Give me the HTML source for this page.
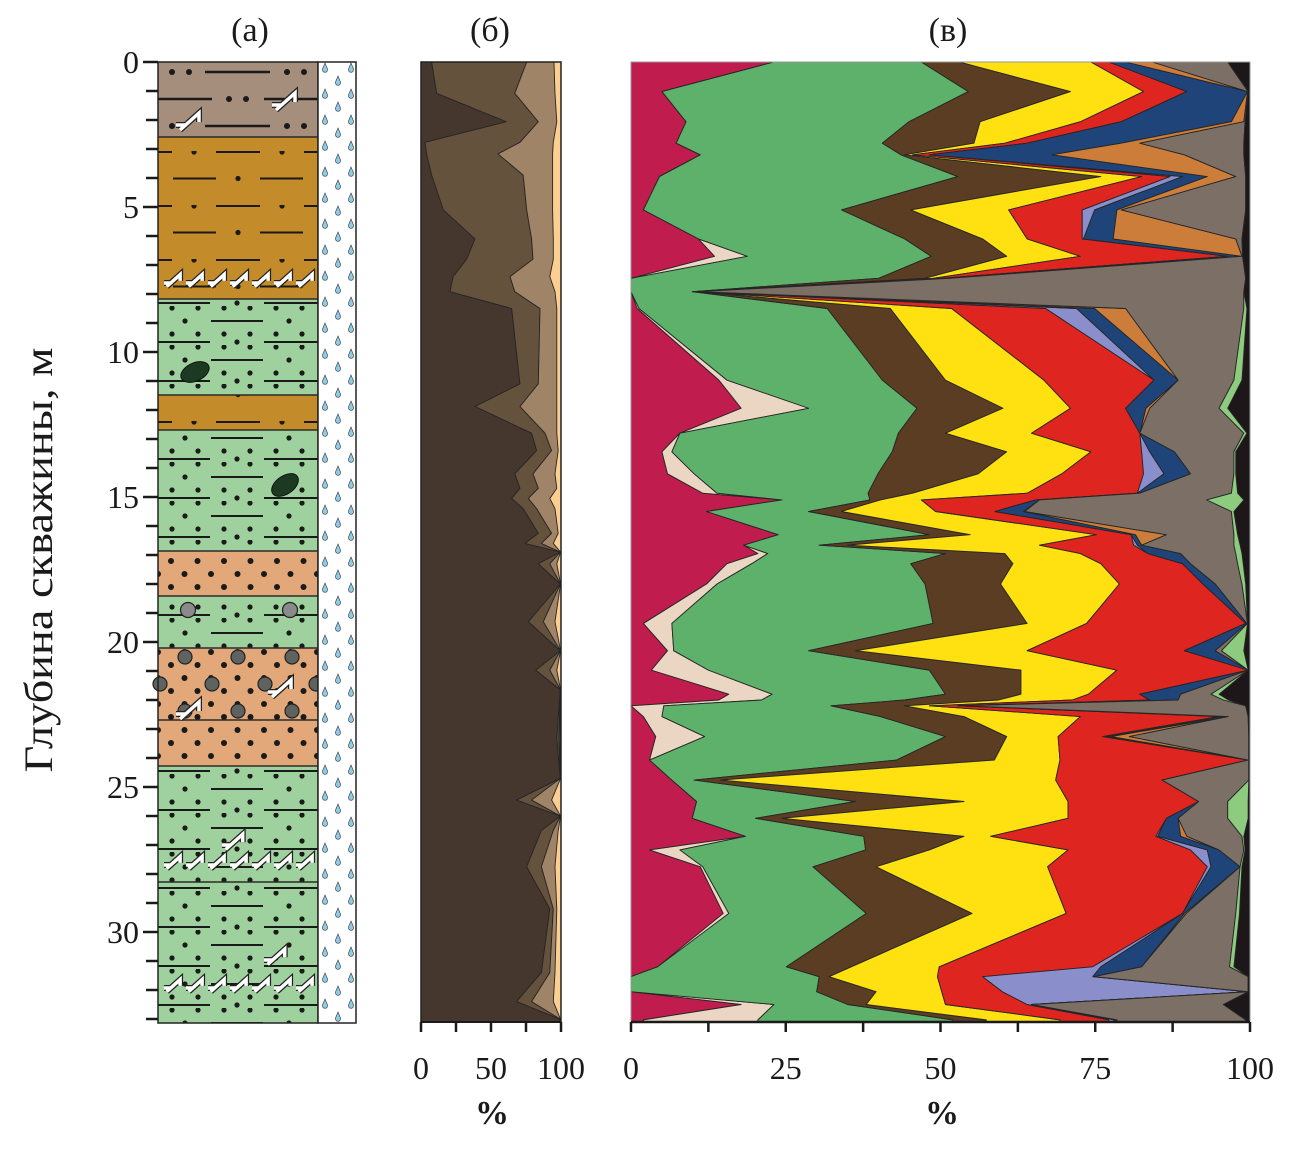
<!DOCTYPE html>
<html><head><meta charset="utf-8">
<style>
html,body{margin:0;padding:0;background:#fff;}
svg{display:block;}
text{font-family:"Liberation Serif",serif;fill:#1a1a1a;}
</style></head>
<body>
<svg id="chart" width="1303" height="1158" viewBox="0 0 1303 1158" xmlns="http://www.w3.org/2000/svg">
<defs>
  <pattern id="pGold" patternUnits="userSpaceOnUse" x="158" y="151" width="160" height="54">
    <rect width="160" height="54" fill="#c38b2a"/>
    <line x1="0" y1="1" x2="14" y2="1" stroke="#1a1a1a" stroke-width="2"/>
    <circle cx="36" cy="1" r="2.6" fill="#1a1a1a"/>
    <line x1="58" y1="1" x2="102" y2="1" stroke="#1a1a1a" stroke-width="2"/>
    <circle cx="124" cy="1" r="2.6" fill="#1a1a1a"/>
    <line x1="146" y1="1" x2="160" y2="1" stroke="#1a1a1a" stroke-width="2"/>
    <line x1="15" y1="27.5" x2="58" y2="27.5" stroke="#1a1a1a" stroke-width="2"/>
    <circle cx="80" cy="27.5" r="2.6" fill="#1a1a1a"/>
    <line x1="102" y1="27.5" x2="145" y2="27.5" stroke="#1a1a1a" stroke-width="2"/>
  </pattern>
  <pattern id="pGreen" patternUnits="userSpaceOnUse" x="158" y="306" width="160" height="39">
    <rect width="160" height="39" fill="#9ed19d"/>
    <circle cx="14" cy="2" r="2.6" fill="#1a1a1a"/><circle cx="40" cy="2" r="2.6" fill="#1a1a1a"/>
    <circle cx="66" cy="2" r="2.6" fill="#1a1a1a"/><circle cx="92" cy="2" r="2.6" fill="#1a1a1a"/>
    <circle cx="118" cy="2" r="2.6" fill="#1a1a1a"/><circle cx="144" cy="2" r="2.6" fill="#1a1a1a"/>
    <circle cx="27" cy="15" r="2.6" fill="#1a1a1a"/>
    <line x1="53" y1="15" x2="105" y2="15" stroke="#1a1a1a" stroke-width="2"/>
    <circle cx="131" cy="15" r="2.6" fill="#1a1a1a"/>
    <circle cx="14" cy="28" r="2.6" fill="#1a1a1a"/><circle cx="40" cy="28" r="2.6" fill="#1a1a1a"/>
    <circle cx="66" cy="28" r="2.6" fill="#1a1a1a"/><circle cx="92" cy="28" r="2.6" fill="#1a1a1a"/>
    <circle cx="118" cy="28" r="2.6" fill="#1a1a1a"/><circle cx="144" cy="28" r="2.6" fill="#1a1a1a"/>
    <line x1="0" y1="36" x2="52" y2="36" stroke="#1a1a1a" stroke-width="2"/>
    <circle cx="79" cy="36" r="2.6" fill="#1a1a1a"/>
    <line x1="106" y1="36" x2="160" y2="36" stroke="#1a1a1a" stroke-width="2"/>
  </pattern>
  <pattern id="pTan" patternUnits="userSpaceOnUse" x="158" y="557" width="53" height="26">
    <rect width="53" height="26" fill="#e2a879"/>
    <circle cx="13" cy="4" r="3" fill="#1a1a1a"/><circle cx="39.5" cy="4" r="3" fill="#1a1a1a"/>
    <circle cx="0" cy="17" r="3" fill="#1a1a1a"/><circle cx="26.5" cy="17" r="3" fill="#1a1a1a"/><circle cx="53" cy="17" r="3" fill="#1a1a1a"/>
  </pattern>
  <pattern id="pWater" patternUnits="userSpaceOnUse" x="318" y="62" width="38" height="26">
    <rect width="38" height="26" fill="#fff"/>
    <path d="M7,1 L9.5,7 A2.6,2.6 0 1 1 4.5,7 Z" fill="#8fcbe8" stroke="#333" stroke-width="0.6"/>
    <path d="M33,1 L35.5,7 A2.6,2.6 0 1 1 30.5,7 Z" fill="#8fcbe8" stroke="#333" stroke-width="0.6"/>
    <path d="M20,14 L22.5,20 A2.6,2.6 0 1 1 17.5,20 Z" fill="#8fcbe8" stroke="#333" stroke-width="0.6"/>
  </pattern>
</defs>

<text x="250" y="41" font-size="34" text-anchor="middle">(а)</text>
<text x="490" y="41" font-size="34" text-anchor="middle">(б)</text>
<text x="948" y="41" font-size="34" text-anchor="middle">(в)</text>
<text transform="translate(52,560) rotate(-90)" font-size="40" text-anchor="middle" textLength="425" lengthAdjust="spacingAndGlyphs">Глубина скважины, м</text>

<g id="litho">
  <rect x="158" y="62" width="160" height="75" fill="#a58f7c"/>
  <rect x="158" y="137" width="160" height="162" fill="url(#pGold)"/>
  <rect x="158" y="299" width="160" height="96" fill="url(#pGreen)"/>
  <rect x="158" y="395" width="160" height="35" fill="url(#pGold)"/>
  <rect x="158" y="430" width="160" height="121" fill="url(#pGreen)"/>
  <rect x="158" y="551" width="160" height="45" fill="url(#pTan)"/>
  <rect x="158" y="596" width="160" height="52" fill="url(#pGreen)"/>
  <rect x="158" y="648" width="160" height="72" fill="url(#pTan)"/>
  <rect x="158" y="720" width="160" height="46" fill="url(#pTan)"/>
  <rect x="158" y="766" width="160" height="116" fill="url(#pGreen)"/>
  <rect x="158" y="882" width="160" height="141" fill="url(#pGreen)"/>
  <g id="topMarks" stroke="#1a1a1a" stroke-width="2.5" fill="#1a1a1a">
    <circle cx="172" cy="72" r="3" stroke="none"/><circle cx="189" cy="72" r="3" stroke="none"/>
    <line x1="205" y1="72" x2="270" y2="72"/>
    <circle cx="287" cy="72" r="3" stroke="none"/><circle cx="304" cy="72" r="3" stroke="none"/>
    <line x1="158" y1="99" x2="212" y2="99"/>
    <circle cx="229" cy="99" r="3" stroke="none"/><circle cx="246" cy="99" r="3" stroke="none"/>
    <line x1="264" y1="99" x2="318" y2="99"/>
    <circle cx="172" cy="126" r="3" stroke="none"/>
    <line x1="205" y1="126" x2="270" y2="126"/>
    <circle cx="287" cy="126" r="3" stroke="none"/><circle cx="304" cy="126" r="3" stroke="none"/>
  </g>
  <g id="lithoLines" stroke="#2a2a2a" stroke-width="1.5">
    <line x1="158" y1="137" x2="318" y2="137"/><line x1="158" y1="299" x2="318" y2="299"/>
    <line x1="158" y1="395" x2="318" y2="395"/><line x1="158" y1="430" x2="318" y2="430"/>
    <line x1="158" y1="551" x2="318" y2="551"/><line x1="158" y1="596" x2="318" y2="596"/>
    <line x1="158" y1="648" x2="318" y2="648"/><line x1="158" y1="720" x2="318" y2="720"/>
    <line x1="158" y1="766" x2="318" y2="766"/><line x1="158" y1="882" x2="318" y2="882"/>
  </g>
  <ellipse cx="195" cy="372" rx="15" ry="9" transform="rotate(-25 195 372)" fill="#1c3a22" stroke="#111" stroke-width="1"/>
  <ellipse cx="285" cy="485" rx="15" ry="9" transform="rotate(-35 285 485)" fill="#1c3a22" stroke="#111" stroke-width="1"/>
  <g id="pebbles" stroke="#222" stroke-width="1.2">
    <circle cx="188" cy="610" r="7.5" fill="#8a8a8a"/><circle cx="290" cy="610" r="7.5" fill="#8a8a8a"/>
    <circle cx="185" cy="657" r="7" fill="#5e6360"/><circle cx="238" cy="657" r="7" fill="#5e6360"/><circle cx="292" cy="657" r="7" fill="#5e6360"/>
    <circle cx="160" cy="684" r="7" fill="#5e6360"/><circle cx="212" cy="684" r="7" fill="#5e6360"/><circle cx="265" cy="684" r="7" fill="#5e6360"/><circle cx="316" cy="684" r="7" fill="#5e6360"/>
    <circle cx="185" cy="711" r="7" fill="#5e6360"/><circle cx="238" cy="711" r="7" fill="#5e6360"/><circle cx="292" cy="711" r="7" fill="#5e6360"/>
  </g>
  <g id="symbols"></g>
  <rect x="158" y="62" width="160" height="961" fill="none" stroke="#222" stroke-width="1.5"/>
  <rect x="318" y="62" width="38" height="961" fill="url(#pWater)" stroke="#222" stroke-width="1.5"/>
</g>
<g id="yaxis"></g>
<g id="panelB"></g>
<g id="panelC"></g>
</svg>

<script>
const bDepths = [0,1.08,2.06,2.77,3.17,3.9,5.1,6.1,6.8,7.4,7.92,8.5,11.1,11.88,12.8,13.4,14.2,14.7,15.05,15.4,16.25,16.6,16.9,17.3,18.0,19.3,20.3,20.97,21.65,23.3,24.7,25.45,26.0,26.5,27.75,29.2,31.4,32.4,33.0,33.1];
const bDarkEdge = [7.6,11.2,61,2.9,4,7.6,16,38.6,32.6,23,20.7,64.8,70.7,38.6,79,82.6,67,70.7,64.8,73,83.8,74.3,99.5,83.8,99.5,76.7,99.5,82,99.5,97,99.5,68.3,99.5,86,75.5,92,86,68.3,99,99];
const bMidEdge = [75.5,67,83.8,70.7,55,73,75.5,79,80,63.6,67,85,83.8,70.7,88.6,93.3,80,83.8,76.7,82.6,93.3,86,99.6,92,99.6,87.4,99.6,92,99.6,98.5,99.6,79,99.6,94.5,86,94.5,92,79,99.3,99.3];
const bTanEdge = [95,95.7,97,94.5,94,94,94,94.5,94.5,92,95.7,97,97,97,97,98,95.7,97,92,95.7,98,94.5,99.7,97,99.7,95.7,99.7,97,99.7,99.3,99.7,93.3,99.7,98,95.7,97,95.7,94.5,99.6,99.6];
const bTicks = [0,50,100];

const cDepths = [0,1.02,2.06,2.8,3.2,3.95,5.1,6.1,6.7,7.46,7.92,8.5,10.97,11.94,12.8,13.44,14.2,14.87,15.1,15.5,16.3,16.66,16.95,17.3,18.0,19.36,20.3,20.97,21.8,22.0,22.2,22.57,23.26,24.07,24.76,25.5,26.08,26.7,27.17,27.75,29.36,31.2,31.54,32.06,32.5,33.03,33.1];
const crimsonEdge = [23.1,5,8.9,7.3,11.2,4.6,2,10.9,13.5,0,0,1,14.2,17.8,7.9,5,5.9,11.6,24.4,12.2,23.8,18.2,20.5,15.5,12.2,2,5.9,3.3,15.8,14.2,0,2,4,3,6.6,10.6,9.9,18.5,3,11.2,14.9,4.3,0,0,17.8,2,2];
const beigeEdge = [23.1,5,8.9,7.3,11.2,4.6,2,10.9,18.8,0,0,1.3,15.5,28.7,7.9,6.6,10.2,13.9,24.4,12.2,23.8,18.2,22.1,19.5,13.9,6.6,6.9,12.5,22.8,21.1,5.3,5,11.9,3,6.6,10.6,9.9,18.5,7.9,11.6,15.8,4.3,0,0,23.1,20.5,20.5];
const greenEdge = [46.9,54.5,44.9,40.6,43.6,52.8,34,44.2,48.5,40,9.9,31.7,40.6,46.2,43.2,42.2,39.9,38.3,38.6,28.7,48.2,30.4,50.8,45.2,47.5,48.8,28.7,48.2,50.8,44.2,32.3,40.3,50.8,42.9,10.2,36.3,20.1,37.6,37.9,29.4,38,25.1,30.4,30,35,52,52];
const brownEdge = [53.1,71,56.4,55.4,44.2,75.9,45.2,56.8,60.7,47.5,10.2,41.9,50.8,60.1,50.8,60.7,56.1,45.5,40.3,34,54.8,35,60.4,61.7,59.7,64,36.3,63,63,59.4,44.2,53.8,60.7,58.7,14.5,53.8,24.4,53.8,48.2,39.6,55.1,35.6,32,39.6,38,57.4,57.4];
const yellowEdge = [74.3,82.8,72.6,60.4,45.5,82.5,61,64,72.6,48.8,10.4,51.8,66.7,71,64.7,74.3,69.6,64,46.9,49.2,75.2,66,72.6,75.9,78.9,73.6,64,78.5,73.9,71.3,48.2,72.6,69,69.3,68.6,70.6,70.6,58.1,70.6,67.3,70.3,49.8,49.5,50.2,50.8,69.3,69.3];
const redEdge = [77.2,89.8,79.2,64,48.2,87.1,72.9,72.9,96.4,50.2,10.6,67,84.5,79.9,82.2,82.5,82.8,81.8,65.4,58.8,80.8,81.2,83.5,89.1,92.4,99.3,89.4,99.7,82.2,83.8,52.8,95,76.2,99.7,85.8,91.7,86.5,84.8,90.4,93.1,89.1,74.6,56.8,60,64,77.2,77.2];
const lavenderEdge = [77.2,89.8,79.2,64,48.2,89.1,74.9,73.1,96.4,50.2,10.6,72,84.5,79.9,82.2,83.8,86.1,81.8,65.4,58.8,80.8,81.8,83.5,89.1,92.4,99.3,89.4,99.7,82.2,83.8,52.8,95.5,76.8,99.7,85.8,91.7,86.5,85.1,93.1,93.7,89.1,75.9,74.6,99.7,64.7,78,78];
const blueEdge = [79.9,99.6,97,79.2,68,93.1,78.5,77.9,98.7,51.5,10.8,74.9,88.4,83.2,82.2,87.8,90.4,82.2,66,63.4,81.5,82.5,88.8,90.4,94.4,99.5,94.4,99.7,88.8,88.4,53.5,96.5,77.6,99.7,85.8,91.7,88.4,88.8,95,98.4,89.4,82.5,74.8,99.7,64.7,78.5,78.5];
const orangeEdge = [84.2,99.6,99,82.2,89.4,97.7,79.2,97.7,98.7,51.5,10.8,79.9,88.4,83.8,82.2,87.8,90.4,82.2,66,63.6,86.5,82.5,88.8,90.4,94.4,99.5,94.4,99.7,88.8,88.4,53.5,96.5,80.5,99.7,85.8,91.7,88.4,89.8,95,98.4,89.7,82.5,74.8,99.7,64.7,78.5,78.5];
const grayEdge = [96.4,99.7,99.2,99,99,99.3,99.3,98.7,98.8,99.3,99,99,97.4,95,99,97.4,97.4,97,93,97,97.4,97.4,97.7,98,98.7,99.6,95.4,99.7,93.7,95.7,99.3,99.7,99.8,99.8,99.8,96.4,96.4,98.7,99,98.4,97.7,96.7,99.7,99.7,95.7,99.3,99.3];
const lightGreenEdge = [96.4,99.7,99.2,99,99,99.3,99.3,98.7,98.8,99.3,99,99.5,98.7,96.4,99.5,97.7,97.7,98,99,97.4,98,98.4,98.7,98.9,99.3,99.6,99,99.7,95,96.5,99.3,99.7,99.8,99.8,99.8,99.7,99.7,99,99.2,98.7,98.3,97.4,99.7,99.7,95.7,99.3,99.3];
const cTicks = [0,25,50,75,100];
const depthTicks = [0,5,10,15,20,25,30];

const NS = "http://www.w3.org/2000/svg";
function mk(tag, attrs, parent){ const e=document.createElementNS(NS,tag); for(const k in attrs) e.setAttribute(k,attrs[k]); parent.appendChild(e); return e; }
const Y0 = 62, PXM = 29, YB = 1022;
const yScale = d => Y0 + d*PXM;
const xB = p => 421 + p*1.4;
const xC = p => 631 + p*6.19;

const ya = document.getElementById('yaxis');
for (let m=0; m<=33; m++){
  const major = m%5===0;
  const t = mk('line',{x1: major?143:146, y1:yScale(m), x2:158, y2:yScale(m), stroke:'#1a1a1a','stroke-width':2.5}, ya);
  
  
}
depthTicks.forEach(d=>{
  const t = mk('text',{x:139, y:yScale(d)+11, 'font-size':32, 'text-anchor':'end'}, ya);
  t.textContent = d;
  
  
});

const sym = document.getElementById('symbols');
function rootSym(x,y,s){
  const d = `M${x},${y} l${10*s},0 M${x+4*s},${y+5*s} l${19*s},${-17*s} l0,${9*s}`;
  mk('path',{d:d, stroke:'#222','stroke-width':6,fill:'none','stroke-linejoin':'miter'}, sym);
  mk('path',{d:d, stroke:'#fff','stroke-width':3.5,fill:'none'}, sym);
}
rootSym(176,125,1); rootSym(272,105,1);
for(let i=0;i<7;i++){ rootSym(164+i*22,283,0.7); }
rootSym(176,714,1); rootSym(268,692,1);
rootSym(222,845,0.9);
for(let i=0;i<7;i++){ rootSym(164+i*22,865,0.7); }
rootSym(264,960,0.9);
for(let i=0;i<7;i++){ rootSym(164+i*22,988,0.7); }

function stackArea(group, depths, edges, colors, xs, names){
  const n = depths.length;
  let prev = depths.map(()=>0);
  edges.forEach((edge,i)=>{
    const pts = [];
    for(let k=0;k<n;k++) pts.push(xs(edge[k] ?? edge[edge.length-1]) + ',' + yScale(depths[k]));
    for(let k=n-1;k>=0;k--) pts.push(xs(prev[k]) + ',' + yScale(depths[k]));
    const p = mk('polygon',{points:pts.join(' '), fill:colors[i], stroke:'#262626','stroke-width':0.9,'stroke-linejoin':'round'}, group);
    
    
    prev = edge.map(v=>v);
  });
}

const gB = document.getElementById('panelB');
mk('rect',{x:421,y:62,width:140,height:960,fill:'#fccf91'}, gB);
stackArea(gB, bDepths, [bDarkEdge,bMidEdge,bTanEdge], ['#46372e','#65523d','#a08467'], xB, ['area-dark-brown','area-mid-brown','area-tan']);
mk('rect',{x:421,y:62,width:140,height:960,fill:'none',stroke:'#222','stroke-width':1.5}, gB);
[0,25,50,75,100].forEach(v=>{
  const t = mk('line',{x1:xB(v),y1:YB,x2:xB(v),y2:YB+10,stroke:'#1a1a1a','stroke-width':2.5}, gB);
  
  
});
mk('line',{x1:421,y1:YB,x2:561,y2:YB,stroke:'#1a1a1a','stroke-width':2}, gB);
bTicks.forEach(v=>{
  const t = mk('text',{x:xB(v), y:1079, 'font-size':32, 'text-anchor':'middle'}, gB);
  t.textContent = v;
  
  
});
const pb = mk('text',{x:492,y:1124,'font-size':34,'font-weight':'bold','text-anchor':'middle'}, gB);
pb.textContent='%';



const gC = document.getElementById('panelC');
mk('rect',{x:631,y:62,width:619,height:960,fill:'#1e1719'}, gC);
stackArea(gC, cDepths,
  [crimsonEdge,beigeEdge,greenEdge,brownEdge,yellowEdge,redEdge,lavenderEdge,blueEdge,orangeEdge,grayEdge,lightGreenEdge],
  ['#c01c4e','#ead6c2','#5db16a','#5a3d22','#ffe010','#de2520','#8a8fcb','#1f4479','#cc7d3a','#7b6f66','#8dcc7f'],
  xC,
  ['area-crimson','area-beige','area-green','area-brown','area-yellow','area-red','area-lavender','area-blue','area-orange','area-gray','area-light-green']);
mk('rect',{x:631,y:62,width:619,height:960,fill:'none',stroke:'#999','stroke-width':1}, gC);
mk('line',{x1:631,y1:YB,x2:1250,y2:YB,stroke:'#1a1a1a','stroke-width':2.5}, gC);
for(let v=0; v<=100; v+=12.5){
  const t = mk('line',{x1:xC(v),y1:YB,x2:xC(v),y2:YB+10,stroke:'#1a1a1a','stroke-width':2.5}, gC);
  
  
}
cTicks.forEach(v=>{
  const t = mk('text',{x:xC(v), y:1079, 'font-size':32, 'text-anchor':'middle'}, gC);
  t.textContent = v;
  
  
});
const pc = mk('text',{x:942,y:1124,'font-size':34,'font-weight':'bold','text-anchor':'middle'}, gC);
pc.textContent='%';


</script>
</body></html>
